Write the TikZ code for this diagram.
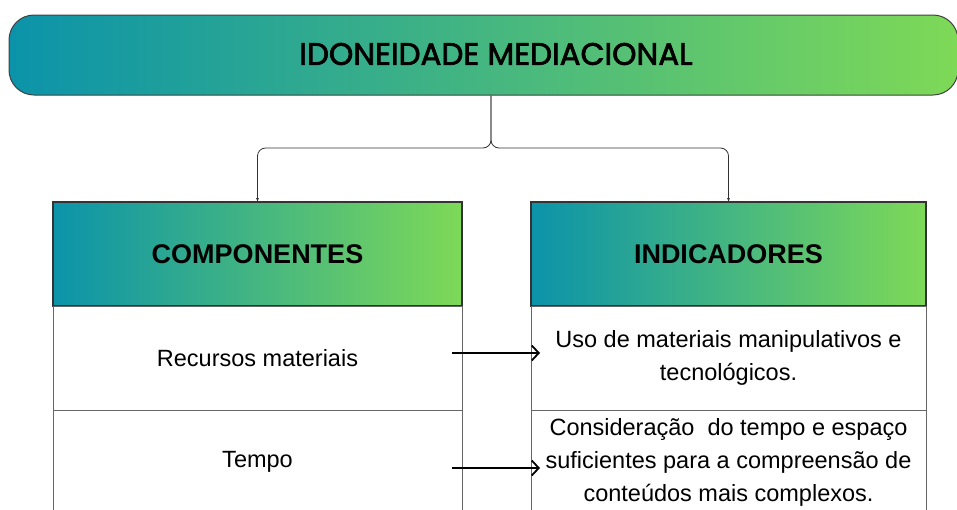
\documentclass[tikz,border=0pt]{standalone}
\usepackage{fontspec}
\setmainfont{Liberation Sans}
\newfontfamily\titulofont[FakeBold=2.2]{Poppins}
\usetikzlibrary{positioning, arrows.meta}
\definecolor{tealEsq}{HTML}{0B93AA}
\definecolor{verdeDir}{HTML}{7ED957}
\tikzstyle{tituloBox} = [rectangle, rounded corners=25pt, minimum width=949pt, minimum height=80pt, left color=tealEsq, right color=verdeDir, draw=black!75, line width=1pt]
\tikzstyle{cabBox} = [rectangle, minimum height=104pt, outer sep=0pt, left color=tealEsq, right color=verdeDir, draw=black!80, line width=1.2pt, font=\bfseries\fontsize{27}{32}\selectfont]
\tikzstyle{linhaBox} = [rectangle, minimum height=104pt, outer sep=0pt, inner sep=2pt, draw=black!60, line width=1pt, fill=white, align=center, font=\fontsize{23.5}{33}\selectfont]
\tikzstyle{ramo} = [rounded corners=8pt, line width=0.8pt, draw=black!80, -{Latex[length=4pt,width=3pt]}]
\tikzstyle{seta} = [line width=1.8pt, -{Straight Barb[length=7pt,width=15pt]}]

\begin{document}
\begin{tikzpicture}[x=1pt, y=-1pt]
	\useasboundingbox (0,0) rectangle (957,509);
	\clip (0,0) rectangle (957,509);
	% titulo
	\node [tituloBox](titulo) at (483.5,55) {};
	\node [font=\titulofont\fontsize{31}{34}\selectfont](tituloTxt) at (496,54) {IDONEIDADE MEDIACIONAL};
	% colunas
	\node [cabBox, minimum width=409pt](comp) at (257.5,254) {COMPONENTES};
	\node [cabBox, minimum width=395pt](ind) at (728.5,254) {INDICADORES};
	\node [linhaBox, minimum width=409pt, below=0pt of comp](rec) {Recursos materiais};
	\node [linhaBox, minimum width=409pt, below=0pt of rec](tempo) {Tempo};
	\node [linhaBox, minimum width=395pt, below=0pt of ind](uso) {Uso de materiais manipulativos e\\tecnológicos.};
	\node [linhaBox, minimum width=395pt, below=0pt of uso](cons) {Consideração\ \ do tempo e espaço\\suficientes para a compreensão de\\conteúdos mais complexos.};
	% ligacoes
	\coordinate (jun) at (491,148);
	\draw [ramo] ([xshift=7.5pt]titulo.south) -- (jun) -| (comp.north);
	\draw [ramo] ([xshift=7.5pt]titulo.south) -- (jun) -| (ind.north);
	\draw [seta] ([xshift=-10pt,yshift=5pt]rec.east) -- ([xshift=9pt,yshift=5pt]uso.west);
	\draw [seta] ([xshift=-10pt,yshift=-6pt]tempo.east) -- ([xshift=9pt,yshift=-6pt]cons.west);
\end{tikzpicture}
\end{document}
